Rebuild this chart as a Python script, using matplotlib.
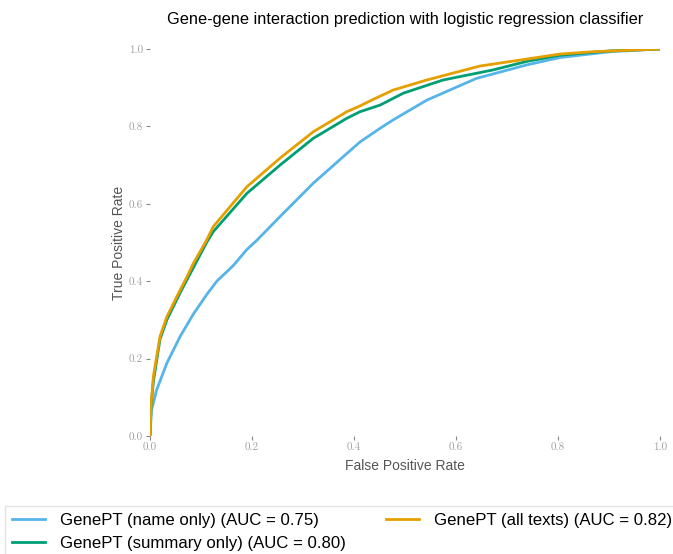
import matplotlib
matplotlib.use('Agg')
import matplotlib.pyplot as plt

# ROC curves
fpr_name = [0, 0.003, 0.013, 0.033, 0.059, 0.085, 0.111, 0.131, 0.163, 0.19, 0.209,
            0.255, 0.32, 0.386, 0.412, 0.451, 0.477, 0.543, 0.64, 0.739, 0.804, 0.902, 1.0]
tpr_name = [0, 0.067, 0.119, 0.188, 0.257, 0.315, 0.365, 0.400, 0.440, 0.482, 0.505,
            0.567, 0.653, 0.73, 0.76, 0.795, 0.817, 0.868, 0.924, 0.959, 0.978, 0.993, 1.0]

fpr_summary = [0, 0.002, 0.0065, 0.0196, 0.033, 0.059, 0.085, 0.111, 0.124, 0.19, 0.255,
               0.32, 0.386, 0.412, 0.451, 0.497, 0.575, 0.673, 0.739, 0.804, 0.902, 1.0]
tpr_summary = [0, 0.075, 0.14, 0.25, 0.30, 0.37, 0.435, 0.50, 0.528, 0.627, 0.70,
               0.769, 0.821, 0.838, 0.855, 0.886, 0.92, 0.946, 0.968, 0.984, 0.995, 1.0]

fpr_all = [0, 0.002, 0.0065, 0.0196, 0.033, 0.059, 0.072, 0.085, 0.111, 0.124, 0.19,
           0.255, 0.32, 0.386, 0.412, 0.438, 0.477, 0.543, 0.647, 0.739, 0.804, 0.869, 1.0]
tpr_all = [0, 0.08, 0.153, 0.257, 0.308, 0.377, 0.41, 0.446, 0.506, 0.541, 0.644,
           0.718, 0.786, 0.838, 0.853, 0.870, 0.894, 0.92, 0.956, 0.974, 0.987, 0.993, 1.0]

labels = ['GenePT (name only) (AUC = 0.75)',
          'GenePT (summary only) (AUC = 0.80)',
          'GenePT (all texts) (AUC = 0.82)']
colors = ['#56B4E9', '#009E73', '#E69F00']

plt.rcParams['font.family'] = ['Liberation Sans', 'DejaVu Sans']

fig = plt.figure(figsize=(6.73, 5.54), dpi=100)
ax = fig.add_axes([150/673, 1-436/554, 510/673, 387/554])

ax.plot(fpr_name, tpr_name, color=colors[0], lw=2, label=labels[0])
ax.plot(fpr_summary, tpr_summary, color=colors[1], lw=2, label=labels[1])
ax.plot(fpr_all, tpr_all, color=colors[2], lw=2, label=labels[2])

ax.set_xlim(0, 1)
ax.set_ylim(0, 1)
ax.set_xticks([0, 0.2, 0.4, 0.6, 0.8, 1.0])
ax.set_yticks([0, 0.2, 0.4, 0.6, 0.8, 1.0])
for s in ax.spines.values():
    s.set_visible(False)
ax.tick_params(length=3, width=0.8, color='#888888', labelcolor='#a0a0a0',
               labelsize=8, pad=2)
for t in ax.get_xticklabels() + ax.get_yticklabels():
    t.set_fontfamily('cmr10')

ax.set_xlabel('False Positive Rate', fontsize=10, color='#555555', labelpad=5)
ax.set_ylabel('True Positive Rate', fontsize=10, color='#555555', labelpad=2)
ax.set_title('Gene-gene interaction prediction with logistic regression classifier',
             fontsize=11.8, pad=18)

fig.legend(loc='upper left', bbox_to_anchor=(5/673, 1-506/554), ncol=2,
           fontsize=12.1, borderaxespad=0, labelspacing=0.5, columnspacing=2.4,
           handletextpad=0.85, frameon=True, edgecolor='#dddddd', fancybox=False)

fig.savefig('out.png', dpi=100)
